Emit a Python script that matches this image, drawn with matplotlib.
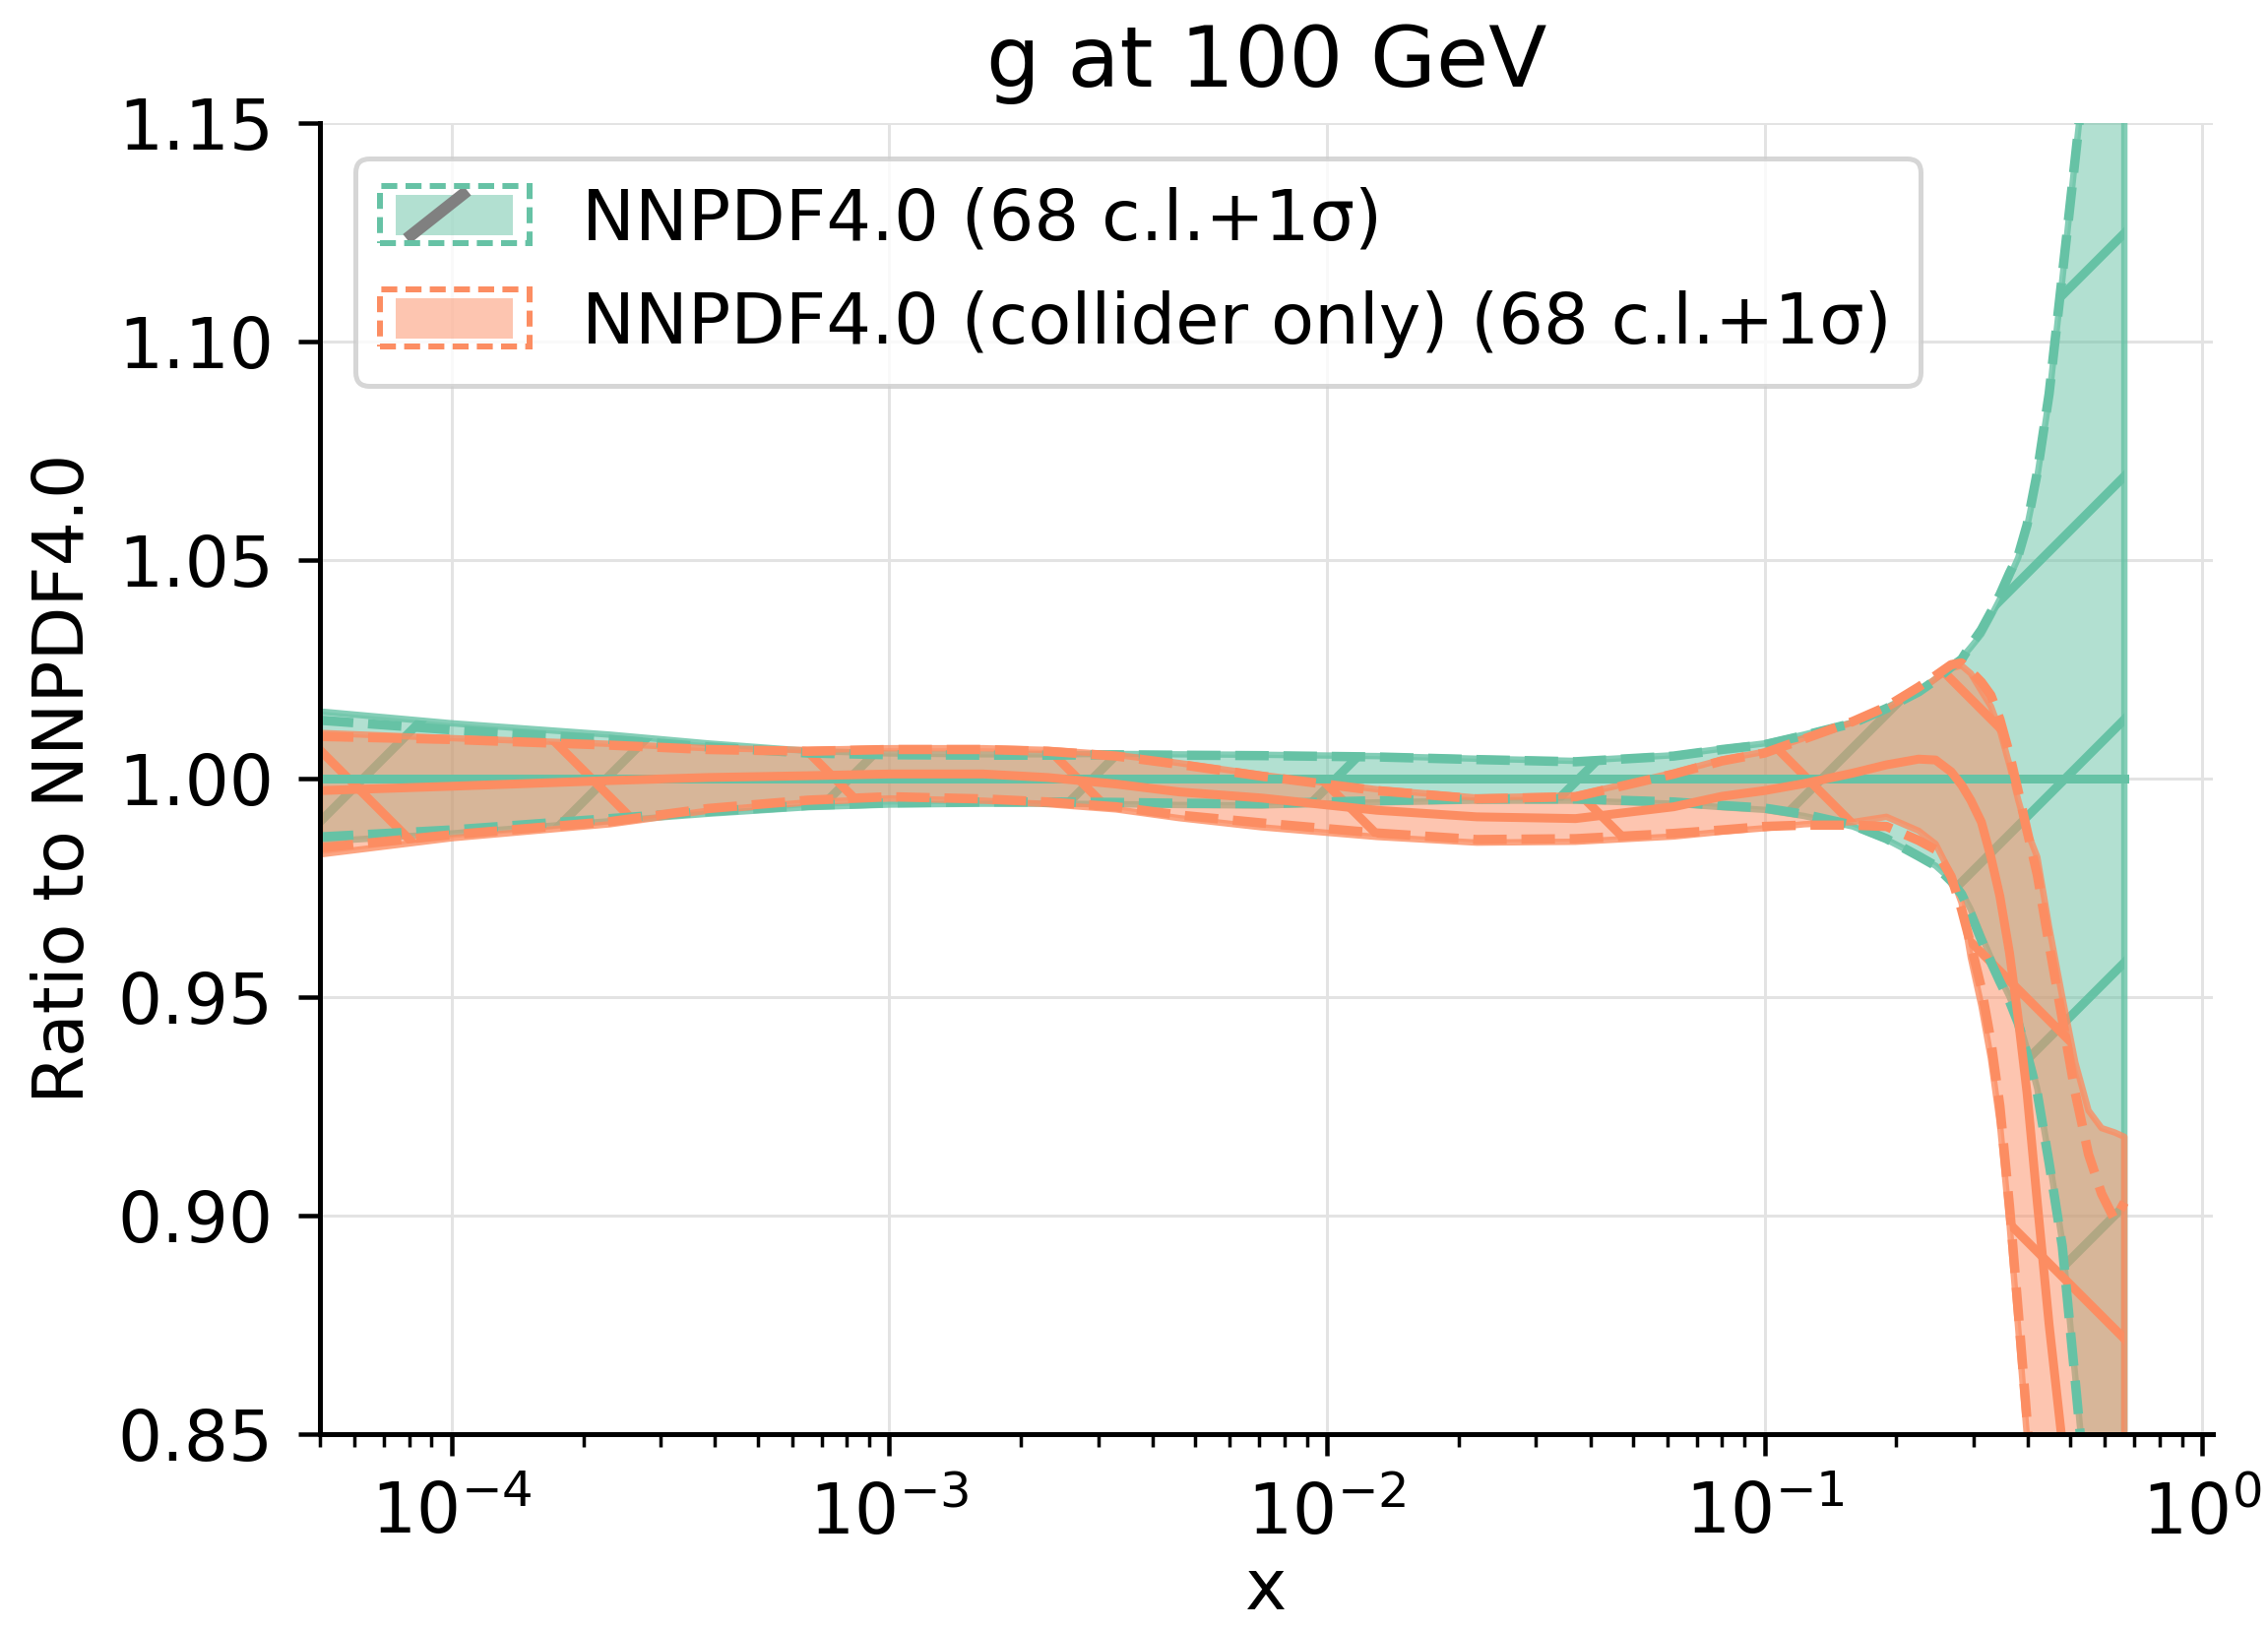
import numpy as np
import matplotlib
matplotlib.use("Agg")
import matplotlib.pyplot as plt
from matplotlib.collections import LineCollection
from matplotlib.transforms import IdentityTransform
from matplotlib.patches import Rectangle
from matplotlib.lines import Line2D
from matplotlib.legend_handler import HandlerBase
from matplotlib.ticker import FormatStrFormatter, FixedLocator
from matplotlib.colors import to_rgba

# ---------------- data ----------------
x = [5.0e-5, 1.0e-4, 2.3e-4, 3.85e-4, 6.5e-4, 1.0e-3, 1.64e-3, 2.3e-3, 3.3e-3, 4.6e-3,
     7.1e-3, 0.013, 0.022, 0.037, 0.062, 0.080, 0.100, 0.123, 0.159, 0.190,
     0.225, 0.246, 0.267, 0.282, 0.296, 0.313, 0.329, 0.345, 0.363, 0.380,
     0.398, 0.420, 0.447, 0.479, 0.513, 0.550, 0.589, 0.631, 0.664]

# NNPDF4.0 (reference, ratio to itself)
ref_central = [1.0, 1.0, 1.0, 1.0, 1.0, 1.0, 1.0, 1.0, 1.0, 1.0,
               1.0, 1.0, 1.0, 1.0, 1.0, 1.0, 1.0, 1.0, 1.0, 1.0,
               1.0, 1.0, 1.0, 1.0, 1.0, 1.0, 1.0, 1.0, 1.0, 1.0,
               1.0, 1.0, 1.0, 1.0, 1.0, 1.0, 1.0, 1.0, 1.0]
ref_up68 = [1.0153, 1.0126, 1.0100, 1.0080, 1.0063, 1.0057, 1.0055, 1.0055, 1.0056, 1.0055,
            1.0054, 1.0051, 1.0045, 1.0040, 1.0053, 1.0068, 1.0080, 1.0100, 1.0128, 1.0162,
            1.0200, 1.0228, 1.0258, 1.0275, 1.0300, 1.0330, 1.0370, 1.0410, 1.0460, 1.0505,
            1.0575, 1.0690, 1.0870, 1.1140, 1.1420, 1.1700, 1.2000, 1.2300, 1.2600]
ref_lo68 = [0.9855, 0.9874, 0.9902, 0.9919, 0.9934, 0.9940, 0.9942, 0.9942, 0.9941, 0.9939,
            0.9938, 0.9945, 0.9949, 0.9949, 0.9942, 0.9934, 0.9928, 0.9914, 0.9890, 0.9860,
            0.9822, 0.9800, 0.9768, 0.9740, 0.9700, 0.9640, 0.9590, 0.9545, 0.9500, 0.9450,
            0.9380, 0.9290, 0.9130, 0.8940, 0.8630, 0.8310, 0.7910, 0.7510, 0.7210]
ref_up1s = [1.0133, 1.0111, 1.0089, 1.0072, 1.0058, 1.0054, 1.0053, 1.0053, 1.0054, 1.0053,
            1.0052, 1.0049, 1.0043, 1.0038, 1.0051, 1.0066, 1.0077, 1.0098, 1.0126, 1.0160,
            1.0198, 1.0225, 1.0255, 1.0272, 1.0305, 1.0340, 1.0380, 1.0420, 1.0470, 1.0510,
            1.0580, 1.0700, 1.0880, 1.1150, 1.1420, 1.1700, 1.2000, 1.2300, 1.2600]
ref_lo1s = [0.9866, 0.9882, 0.9908, 0.9924, 0.9938, 0.9944, 0.9946, 0.9946, 0.9945, 0.9943,
            0.9942, 0.9949, 0.9953, 0.9953, 0.9946, 0.9938, 0.9932, 0.9918, 0.9893, 0.9862,
            0.9822, 0.9800, 0.9765, 0.9735, 0.9690, 0.9630, 0.9580, 0.9535, 0.9490, 0.9440,
            0.9370, 0.9280, 0.9120, 0.8930, 0.8620, 0.8300, 0.7900, 0.7500, 0.7200]

# NNPDF4.0 (collider only)
col_central = [0.9972, 0.9982, 0.9995, 1.0002, 1.0006, 1.0010, 1.0010, 1.0002, 0.9987, 0.9969,
               0.9955, 0.9927, 0.9912, 0.9908, 0.9935, 0.9959, 0.9972, 0.9988, 1.0012, 1.0031,
               1.0044, 1.0042, 1.0015, 0.9985, 0.9950, 0.9900, 0.9820, 0.9730, 0.9600, 0.9450,
               0.9280, 0.9030, 0.8750, 0.8480, 0.8200, 0.7900, 0.7600, 0.7300, 0.7000]
col_up68 = [1.0104, 1.0092, 1.0079, 1.0069, 1.0065, 1.0069, 1.0069, 1.0065, 1.0054, 1.0035,
            1.0008, 0.9975, 0.9956, 0.9961, 1.0013, 1.0043, 1.0061, 1.0092, 1.0128, 1.0160,
            1.0200, 1.0228, 1.0252, 1.0258, 1.0240, 1.0200, 1.0165, 1.0110, 1.0030, 0.9950,
            0.9880, 0.9820, 0.9660, 0.9500, 0.9350, 0.9240, 0.9200, 0.9190, 0.9180]
col_lo68 = [0.9826, 0.9863, 0.9895, 0.9926, 0.9945, 0.9954, 0.9949, 0.9941, 0.9929, 0.9909,
            0.9888, 0.9866, 0.9853, 0.9855, 0.9867, 0.9878, 0.9886, 0.9895, 0.9900, 0.9912,
            0.9880, 0.9850, 0.9780, 0.9715, 0.9590, 0.9480, 0.9360, 0.9210, 0.8980, 0.8740,
            0.8490, 0.8150, 0.7750, 0.7350, 0.6950, 0.6550, 0.6150, 0.5750, 0.5450]
col_up1s = [1.0096, 1.0089, 1.0076, 1.0066, 1.0062, 1.0066, 1.0066, 1.0062, 1.0051, 1.0032,
            1.0005, 0.9972, 0.9953, 0.9958, 1.0010, 1.0040, 1.0058, 1.0090, 1.0130, 1.0164,
            1.0209, 1.0235, 1.0260, 1.0264, 1.0245, 1.0220, 1.0190, 1.0135, 1.0055, 0.9970,
            0.9880, 0.9780, 0.9620, 0.9450, 0.9280, 0.9140, 0.9050, 0.8990, 0.9030]
col_lo1s = [0.9841, 0.9871, 0.9901, 0.9931, 0.9950, 0.9958, 0.9953, 0.9946, 0.9935, 0.9916,
            0.9898, 0.9875, 0.9860, 0.9862, 0.9874, 0.9882, 0.9890, 0.9893, 0.9893, 0.9890,
            0.9858, 0.9837, 0.9775, 0.9700, 0.9620, 0.9520, 0.9400, 0.9250, 0.9020, 0.8780,
            0.8530, 0.8200, 0.7800, 0.7400, 0.7000, 0.6600, 0.6200, 0.5800, 0.5500]

labels = ["NNPDF4.0 (68 c.l.+1σ)", "NNPDF4.0 (collider only) (68 c.l.+1σ)"]
title = "g at 100 GeV"
xlabel = "x"
ylabel = "Ratio to NNPDF4.0"
yticks = [0.85, 0.90, 0.95, 1.00, 1.05, 1.10, 1.15]

# ---------------- style ----------------
GREEN = "#66c2a5"
ORANGE = "#fc8d62"
DPI = 360
W, H = 2304, 1655

fig = plt.figure(figsize=(W / DPI, (H + 0.4) / DPI), dpi=DPI)
ax = fig.add_axes([325 / W, 198 / H, 1923 / W, 1332 / H])
ax.set_xscale("log")
ax.set_xlim(5e-5, 1.058)
ax.set_ylim(0.85, 1.15)

LW = 1.8          # solid lines / hatch
DLW = 1.9         # dashed 1-sigma lines
DASH = (0, (6.8 / DLW, 3.0 / DLW))


def band(lo, hi, color, z):
    return ax.fill_between(x, lo, hi, facecolor=to_rgba(color, 0.5),
                           edgecolor=to_rgba(color, 0.8), linewidth=1.3, zorder=z)


def hatch(coll, color, direction, offset, spacing, z):
    x0, y0, x1, y1 = ax.bbox.extents
    segs = []
    xa, xb = x0 - 20, x1 + 20
    if direction == "/":
        cmin, cmax = y0 - x1, y1 - x0
        ks = np.arange(np.floor((cmin - offset) / spacing), np.ceil((cmax - offset) / spacing) + 1)
        for k in ks:
            c = offset + k * spacing
            segs.append([(xa, xa + c), (xb, xb + c)])
    else:
        cmin, cmax = y0 + x0, y1 + x1
        ks = np.arange(np.floor((cmin - offset) / spacing), np.ceil((cmax - offset) / spacing) + 1)
        for k in ks:
            c = offset + k * spacing
            segs.append([(xa, c - xa), (xb, c - xb)])
    lc = LineCollection(segs, colors=color, linewidths=LW,
                        transform=IdentityTransform(), zorder=z)
    ax.add_collection(lc, autolim=False)
    lc.set_clip_path(coll.get_paths()[0], ax.transData)
    return lc


g_band = band(ref_lo68, ref_up68, GREEN, 1.0)
hatch(g_band, GREEN, "/", 1, 247, 1.1)
o_band = band(col_lo68, col_up68, ORANGE, 1.2)
hatch(o_band, ORANGE, "\\", 230, 247, 1.3)

ax.plot(x, ref_up1s, color=GREEN, lw=DLW, linestyle=DASH, zorder=2.0)
ax.plot(x, ref_lo1s, color=GREEN, lw=DLW, linestyle=DASH, zorder=2.0)
ax.plot(x, ref_central, color=GREEN, lw=LW, zorder=2.0)
ax.plot(x, col_up1s, color=ORANGE, lw=DLW, linestyle=DASH, zorder=2.1)
ax.plot(x, col_lo1s, color=ORANGE, lw=DLW, linestyle=DASH, zorder=2.1)
ax.plot(x, col_central, color=ORANGE, lw=LW, zorder=2.1)

# ---------------- axes cosmetics ----------------
ax.set_axisbelow(True)
ax.grid(True, which="major", color="#e3e3e3", lw=0.6)
ax.yaxis.set_major_locator(FixedLocator(yticks))
ax.yaxis.set_major_formatter(FormatStrFormatter("%.2f"))
for s in ("top", "right"):
    ax.spines[s].set_visible(False)
for s in ("left", "bottom"):
    ax.spines[s].set_linewidth(1.0)
ax.tick_params(which="major", length=4.4, width=0.9, labelsize=14.2, pad=5)
ax.tick_params(which="minor", length=2.6, width=0.7)
ax.tick_params(axis="y", which="minor", left=False)

ax.set_title(title, fontsize=17.3, pad=7.5)
ax.set_xlabel(xlabel, fontsize=14.3, labelpad=1.5)
ax.set_ylabel(ylabel, fontsize=14.3)


class BandHandler(HandlerBase):
    def __init__(self, color, mark):
        super().__init__()
        self.color = color
        self.mark = mark

    def create_artists(self, legend, orig_handle, xdescent, ydescent,
                       width, height, fontsize, trans):
        x0, y0 = -xdescent, -ydescent
        ix, iy, iw, ih = x0 + 2.5, y0 + 0.9, width - 5.0, height - 1.8
        inner = Rectangle((ix, iy), iw, ih, facecolor=to_rgba(self.color, 0.5),
                          edgecolor="none", transform=trans)
        arts = [inner]
        if self.mark:
            arts.append(Line2D([ix + 0.13 * iw, ix + 0.57 * iw], [iy, iy + ih],
                               color="#808080", lw=2.4, transform=trans))
        outer = Rectangle((x0 - 0.8, y0 - 0.8), width + 1.6, height + 1.6,
                          facecolor="none", edgecolor=self.color, linewidth=1.2,
                          linestyle=(0, (2.7, 1.4)), transform=trans)
        arts.append(outer)
        return arts


h1 = Rectangle((0, 0), 1, 1)
h2 = Rectangle((0, 0), 1, 1)
ax.legend([h1, h2], labels, loc="upper left", fontsize=14.4,
          handler_map={h1: BandHandler(GREEN, True), h2: BandHandler(ORANGE, False)},
          framealpha=0.8, edgecolor="0.8", fancybox=True)

fig.savefig("out.png", dpi=DPI)
